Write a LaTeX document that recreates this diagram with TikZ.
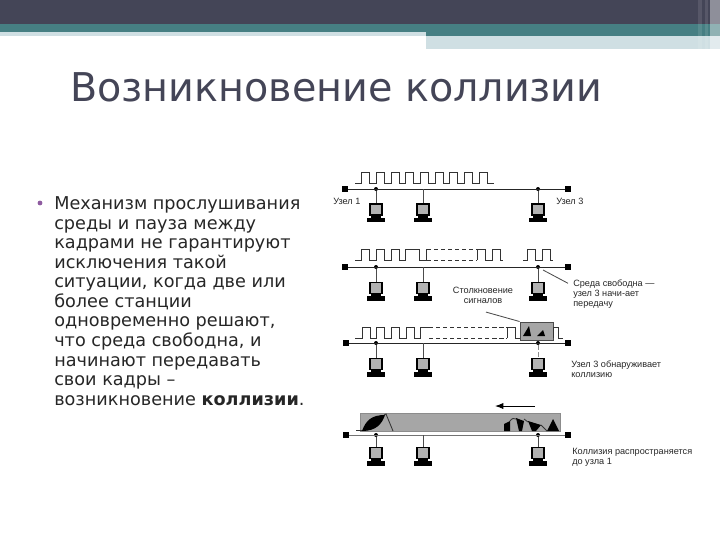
\documentclass[tikz,border=0pt]{standalone}
\usepackage{fontspec}
\setmainfont{DejaVu Sans}
\newfontfamily\labelfont{Liberation Sans}
\usetikzlibrary{arrows.meta,positioning}
\definecolor{headdark}{HTML}{444557}
\definecolor{headteal}{HTML}{467F83}
\definecolor{headlight}{HTML}{CFDFE3}
\definecolor{bulletcol}{HTML}{8E5BA0}
\def\pulse{-- ++(0,-11) -- ++(8,0) -- ++(0,11) -- ++(6.7,0)}

\begin{document}
\begin{tikzpicture}[
  x=0.025cm, y=-0.025cm,
  bus/.style={draw=black!85, line width=0.7pt},
  tapline/.style={draw=black!70, line width=0.6pt},
  signal/.style={draw=black!80, line width=0.6pt},
  busend/.style={rectangle, fill=black, inner sep=0pt, minimum size=0.14cm},
  tapdot/.style={circle, fill=black, inner sep=0pt, minimum size=0.1cm},
  screenbox/.style={rectangle, draw=black, line width=1.1pt, fill=black!30,
    inner sep=0pt, minimum width=0.31cm, minimum height=0.27cm},
  keybox/.style={rectangle, fill=black, inner sep=0pt,
    minimum width=0.44cm, minimum height=0.11cm},
  collision/.style={rectangle, draw=black!70, fill=black!35, inner sep=0pt},
  caption/.style={align=left, anchor=west, inner sep=0pt, text=black!85,
    font=\labelfont\fontsize{6.5}{7.2}\selectfont},
  computer/.pic={
    \fill[black] (-5,6) rectangle (5,9);
    \node[screenbox] (-scr) at (0,0) {};
    \node[keybox] (-kbd) at (0,10.5) {};
  }
]
\useasboundingbox (0,0) rectangle (720,540);
% header bands
\fill[headdark] (0,0) rectangle (720,24);
\fill[headteal] (0,24) rectangle (720,32);
\fill[headteal] (426,32) rectangle (720,36);
\fill[headlight] (0,32) rectangle (426,36);
\fill[headlight] (426,36) rectangle (720,49);
\fill[white, opacity=0.1] (698,0) rectangle (702,49);
\fill[white, opacity=0.1] (705,0) rectangle (708,49);
\fill[white, opacity=0.4] (710,0) rectangle (720,49);

\node[anchor=west, inner sep=0pt, text=headdark, font=\fontsize{28.2}{30}\selectfont] (title) at (70,87)
  {Возникновение коллизии};

\node[circle, fill=bulletcol, inner sep=0pt, minimum size=0.12cm] (bullet) at (40,203) {};
\node[anchor=north west, inner sep=0pt, align=left, text=black!85,
  font=\fontsize{12.55}{13.9}\selectfont] (body) at (54,196.5)
  {Механизм прослушивания\\среды и пауза между\\кадрами не гарантируют\\исключения такой\\ситуации, когда две или\\более станции\\одновременно решают,\\что среда свободна, и\\начинают передавать\\свои кадры –\\возникновение \textbf{коллизии}.};

% first row
\node[busend] (enda) at (345,189) {};
\node[busend] (endb) at (568,189) {};
\node[tapdot] (tapa1) at (376,189) {};
\node[tapdot] (tapa3) at (538,189) {};
\coordinate (tapa2) at (423,189);
\pic (pca1) at (376,209.5) {computer};
\pic (pca2) at (423,209.5) {computer};
\pic (pca3) at (538,209.5) {computer};
\draw[bus] (enda) -- (endb);
\draw[tapline] (tapa1) -- (pca1-scr);
\draw[tapline] (tapa2) -- (pca2-scr);
\draw[tapline] (tapa3) -- (pca3-scr);
\node[caption] (nodea) at (333,201) {Узел 1};
\node[caption] (nodeb) at (556,201) {Узел 3};
\draw[signal] (355,183) -- ++(6.7,0) \pulse \pulse \pulse \pulse \pulse \pulse \pulse \pulse \pulse;

% second row
\node[busend] (endc) at (345,267) {};
\node[busend] (endd) at (568,267) {};
\node[tapdot] (tapb1) at (376,267) {};
\node[tapdot] (tapb3) at (538,267) {};
\coordinate (tapb2) at (423,267);
\pic (pcb1) at (376,288) {computer};
\pic (pcb2) at (423,288) {computer};
\pic (pcb3) at (538,288) {computer};
\draw[bus] (endc) -- (endd);
\draw[tapline] (tapb1) -- (pcb1-scr);
\draw[tapline] (tapb2) -- (pcb2-scr);
\draw[tapline] (tapb3) -- (pcb3-scr);
\draw[signal] (355,260) -- ++(6.7,0) \pulse \pulse \pulse -- ++(0,-11) -- ++(13.5,0) -- ++(0,11) -- ++(7,0) -- ++(0,-11);
\draw[signal, densely dashed] (427,249) -- (477,249);
\draw[signal, densely dashed] (427,260) -- (477,260);
\draw[signal] (477,260) -- (477,249) -- (485,249) -- (485,260) -- (492,260) -- (492,249) -- (500,249) -- (500,260) -- (503,260);
\draw[signal] (523,260) -- (527,260) -- (527,249) -- (535,249) -- (535,260) -- (542,260) -- (542,249) -- (550,249) -- (550,260) -- (553,260);
\node[caption] (freetext) at (573,294) {Среда свободна —\\узел 3 начи-ает\\передачу};
\coordinate (freetip) at (543,270);
\draw[tapline] (freetip) -- ([shift={(-5,4)}]freetext.north west);
\node[caption, align=center, anchor=center] (clashtext) at (483,295.5) {Столкновение\\сигналов};

% third row
\node[busend] (ende) at (346,343) {};
\node[busend] (endf) at (568,343) {};
\node[tapdot] (tapc1) at (376,343) {};
\node[tapdot] (tapc3) at (538,343) {};
\coordinate (tapc2) at (423,343);
\pic (pcc1) at (376,364) {computer};
\pic (pcc2) at (423,364) {computer};
\pic (pcc3) at (538,364) {computer};
\draw[bus] (ende) -- (endf);
\draw[tapline] (tapc1) -- (pcc1-scr);
\draw[tapline] (tapc2) -- (pcc2-scr);
\draw[tapline, draw=black!45, densely dashed] (tapc3) -- (pcc3-scr);
\draw[signal] (355,338) -- ++(7,0) \pulse \pulse \pulse \pulse -- ++(0,-11) -- ++(8,0);
\draw[signal, densely dashed] (429,327) -- (507,327);
\draw[signal, densely dashed] (429,338) -- (507,338);
\draw[signal] (507,338) -- (507,327) -- (515,327) -- (515,338) -- (520,338);
\node[collision, minimum width=0.83cm, minimum height=0.46cm] (clashbox) at (536.5,331) {};
\fill[black] (523,336) -- (529,326) -- (531,336) -- cycle;
\fill[black] (537,336) -- (543,330) -- (545,336) -- cycle;
\draw[signal] (553.5,338) -- (553.5,327) -- (558,327) -- (558,338) -- (563,338);
\draw[tapline] (clashtext.south) ++(3,8) coordinate (clashtip) -- (clashbox.north west);
\node[caption] (detecttext) at (571,369) {Узел 3 обнаруживает\\коллизию};

% fourth row
\coordinate (arrowa) at (535,406);
\coordinate (arrowb) at (495,406);
\draw[-{Latex[length=2.1mm]}, draw=black, line width=0.7pt] (arrowa) -- (arrowb);
\node[collision, draw=black!45, minimum width=5cm, minimum height=0.46cm] (spreadbox) at (460,422) {};
\draw[signal] (356,430) -- (364,430);
\fill[black] (362,431) .. controls (366,420) and (372,415) .. (385,415) .. controls (382,424) and (376,431) .. (362,431);
\draw[signal] (384,415) -- (386,414) -- (393,431);
\fill[black] (504,431) -- (504,424) -- (510,421) -- (510,431) -- cycle;
\draw[signal] (510,421) .. controls (512,418) and (514,418) .. (516,419);
\fill[black] (516,418) -- (524,421) -- (522,431) -- (519,431) -- cycle;
\draw[signal] (524,419) -- (528,422);
\fill[black] (528,421) -- (541,425) -- (536,431) -- (532,431) -- cycle;
\draw[signal] (541,425) -- (547,431);
\fill[black] (547,431) -- (553,419) -- (559,431) -- cycle;
\node[busend] (endg) at (346,435) {};
\node[busend] (endh) at (568,435) {};
\node[tapdot] (tapd1) at (376,435) {};
\node[tapdot] (tapd3) at (538,435) {};
\coordinate (tapd2) at (423,435);
\pic (pcd1) at (376,453) {computer};
\pic (pcd2) at (423,453) {computer};
\pic (pcd3) at (538,453) {computer};
\draw[bus, draw=black!55] (endg) -- (endh);
\draw[tapline] (tapd1) -- (pcd1-scr);
\draw[tapline] (tapd2) -- (pcd2-scr);
\draw[tapline] (tapd3) -- (pcd3-scr);
\node[caption] (spreadtext) at (572,457) {Коллизия распространяется\\до узла 1};
\end{tikzpicture}
\end{document}
